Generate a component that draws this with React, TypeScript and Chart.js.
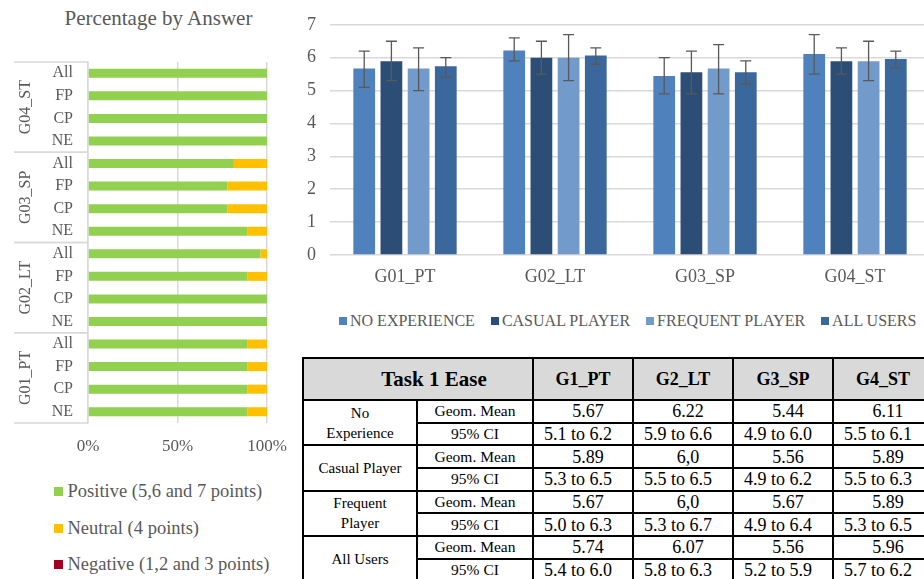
import React, { useEffect, useRef } from 'react';
import { Chart, registerables } from 'chart.js';

Chart.register(...registerables);

const FONT = "'Liberation Serif', 'Times New Roman', serif";
const GRAY = '#595959';
const GRID = '#D9D9D9';

// ---------- Left chart: Percentage by Answer ----------
const answerTitle = 'Percentage by Answer';
const answerGroups = ['G04_ST', 'G03_SP', 'G02_LT', 'G01_PT'];
const answerSubs = ['All', 'FP', 'CP', 'NE'];
const positivePct = [100, 100, 100, 100, 81.5, 77.8, 77.8, 88.9, 96.3, 88.9, 100, 100, 88.9, 88.9, 88.9, 88.9];
const neutralPct = [0, 0, 0, 0, 18.5, 22.2, 22.2, 11.1, 3.7, 11.1, 0, 0, 11.1, 11.1, 11.1, 11.1];
const negativePct = [0, 0, 0, 0, 0, 0, 0, 0, 0, 0, 0, 0, 0, 0, 0, 0];
const answerLegend = ['Positive (5,6 and 7 points)', 'Neutral (4 points)', 'Negative (1,2 and 3 points)'];
const answerColors = ['#92D050', '#FFC000', '#A50021'];
const pctTicks = [0, 50, 100];

// ---------- Right chart: geometric means with 95% CI ----------
const tasks = ['G01_PT', 'G02_LT', 'G03_SP', 'G04_ST'];
const userTypes = ['NO EXPERIENCE', 'CASUAL PLAYER', 'FREQUENT PLAYER', 'ALL USERS'];
const userColors = ['#4F81BD', '#2C4D75', '#729ACA', '#3A679C'];
const meanNoExp = [5.67, 6.22, 5.44, 6.11];
const meanCasual = [5.89, 6.0, 5.56, 5.89];
const meanFrequent = [5.67, 6.0, 5.67, 5.89];
const meanAll = [5.74, 6.07, 5.56, 5.96];
const lowNoExp = [5.1, 5.9, 4.9, 5.5];
const highNoExp = [6.2, 6.6, 6.0, 6.7];
const lowCasual = [5.3, 5.5, 4.9, 5.5];
const highCasual = [6.5, 6.5, 6.2, 6.3];
const lowFrequent = [5.0, 5.3, 4.9, 5.3];
const highFrequent = [6.3, 6.7, 6.4, 6.5];
const lowAll = [5.4, 5.8, 5.2, 5.7];
const highAll = [6.0, 6.3, 5.9, 6.2];

// ---------- Table ----------
const tableTitle = 'Task 1 Ease';
const tableHeaders = ['G1_PT', 'G2_LT', 'G3_SP', 'G4_ST'];
const tableRowLabels = ['No\nExperience', 'Casual Player', 'Frequent\nPlayer', 'All Users'];
const tableMeanLabel = 'Geom. Mean';
const tableCiLabel = '95% CI';
const tableMeanNoExp = ['5.67', '6.22', '5.44', '6.11'];
const tableMeanCasual = ['5.89', '6,0', '5.56', '5.89'];
const tableMeanFrequent = ['5.67', '6,0', '5.67', '5.89'];
const tableMeanAll = ['5.74', '6.07', '5.56', '5.96'];
const tableCiNoExp = ['5.1 to 6.2', '5.9 to 6.6', '4.9 to 6.0', '5.5 to 6.1'];
const tableCiCasual = ['5.3 to 6.5', '5.5 to 6.5', '4.9 to 6.2', '5.5 to 6.3'];
const tableCiFrequent = ['5.0 to 6.3', '5.3 to 6.7', '4.9 to 6.4', '5.3 to 6.5'];
const tableCiAll = ['5.4 to 6.0', '5.8 to 6.3', '5.2 to 5.9', '5.7 to 6.2'];

const groupPlugin = {
  id: 'groupLabels',
  afterDraw(chart: any) {
    const { ctx, chartArea, scales } = chart;
    const ys = scales.y;
    const n = answerSubs.length;
    const step = ys.getPixelForValue(1) - ys.getPixelForValue(0);
    ctx.save();
    ctx.strokeStyle = GRID;
    ctx.lineWidth = 1.5;
    ctx.fillStyle = GRAY;
    ctx.font = `16px ${FONT}`;
    answerGroups.forEach((g, gi) => {
      const top = ys.getPixelForValue(gi * n) - step / 2;
      const bot = ys.getPixelForValue(gi * n + n - 1) + step / 2;
      const x0 = chartArea.left - 74;
      ctx.beginPath();
      ctx.moveTo(x0, top);
      ctx.lineTo(chartArea.left, top);
      ctx.moveTo(x0, bot);
      ctx.lineTo(chartArea.left, bot);
      ctx.stroke();
      ctx.save();
      ctx.translate(chartArea.left - 62, (top + bot) / 2);
      ctx.rotate(-Math.PI / 2);
      ctx.textAlign = 'center';
      ctx.textBaseline = 'middle';
      ctx.fillText(g, 0, 0);
      ctx.restore();
    });
    ctx.restore();
  },
};

const errorPlugin = {
  id: 'errorBars',
  afterDatasetsDraw(chart: any) {
    const lows = [lowNoExp, lowCasual, lowFrequent, lowAll];
    const highs = [highNoExp, highCasual, highFrequent, highAll];
    const { ctx, scales } = chart;
    ctx.save();
    ctx.strokeStyle = '#595959';
    ctx.lineWidth = 1.3;
    chart.data.datasets.forEach((_: any, i: number) => {
      const meta = chart.getDatasetMeta(i);
      meta.data.forEach((bar: any, j: number) => {
        const x = bar.x;
        const yl = scales.y.getPixelForValue(lows[i][j]);
        const yh = scales.y.getPixelForValue(highs[i][j]);
        ctx.beginPath();
        ctx.moveTo(x, yl);
        ctx.lineTo(x, yh);
        ctx.moveTo(x - 5.5, yl);
        ctx.lineTo(x + 5.5, yl);
        ctx.moveTo(x - 5.5, yh);
        ctx.lineTo(x + 5.5, yh);
        ctx.stroke();
      });
    });
    ctx.restore();
  },
};

function LeftChart() {
  const ref = useRef<HTMLCanvasElement>(null);
  useEffect(() => {
    if (!ref.current) return;
    const labels = answerGroups.flatMap(() => answerSubs);
    const chart = new Chart(ref.current, {
      type: 'bar',
      data: {
        labels,
        datasets: [positivePct, neutralPct, negativePct].map((d, i) => ({
          label: answerLegend[i],
          data: d,
          backgroundColor: answerColors[i],
          barPercentage: 0.4,
          categoryPercentage: 1,
        })),
      },
      options: {
        indexAxis: 'y',
        responsive: false,
        animation: false,
        layout: { padding: { top: 62, right: 23, bottom: 0, left: 0 } },
        plugins: { legend: { display: false }, tooltip: { enabled: false }, title: { display: false } },
        scales: {
          x: {
            stacked: true,
            min: 0,
            max: 100,
            afterBuildTicks: (s: any) => {
              s.ticks = pctTicks.map((v) => ({ value: v }));
            },
            afterFit: (s: any) => {
              s.height = 47;
            },
            ticks: {
              callback: (v: any) => v + '%',
              font: { family: FONT, size: 17, lineHeight: 2.43 },
              color: GRAY,
              padding: 3,
            },
            grid: { color: GRID, lineWidth: 1.5, drawTicks: false },
            border: { display: false },
          },
          y: {
            stacked: true,
            afterFit: (s: any) => {
              s.width = 88;
            },
            ticks: { font: { family: FONT, size: 16 }, color: GRAY, padding: 15 },
            grid: { display: false, drawTicks: false },
            border: { display: true, color: GRID, width: 1.5 },
          },
        },
      },
      plugins: [groupPlugin],
    } as any);
    return () => chart.destroy();
  }, []);
  return <canvas ref={ref} width={290} height={470} style={{ position: 'absolute', left: 0, top: 0 }} />;
}

function RightChart() {
  const ref = useRef<HTMLCanvasElement>(null);
  useEffect(() => {
    if (!ref.current) return;
    const series = [meanNoExp, meanCasual, meanFrequent, meanAll];
    const chart = new Chart(ref.current, {
      type: 'bar',
      data: {
        labels: tasks,
        datasets: series.map((d, i) => ({
          label: userTypes[i],
          data: d,
          backgroundColor: userColors[i],
          categoryPercentage: 0.725,
          barPercentage: 0.8,
        })),
      },
      options: {
        responsive: false,
        animation: false,
        layout: { padding: { top: 15, right: 0, bottom: 0, left: 0 } },
        plugins: { legend: { display: false }, tooltip: { enabled: false } },
        scales: {
          y: {
            min: 0,
            max: 7,
            afterFit: (s: any) => {
              s.width = 30;
            },
            ticks: { stepSize: 1, font: { family: FONT, size: 18 }, color: GRAY, padding: 14 },
            grid: { color: GRID, lineWidth: 1.5, drawTicks: false },
            border: { display: false },
          },
          x: {
            afterFit: (s: any) => {
              s.height = 35;
            },
            ticks: { font: { family: FONT, size: 18 }, color: GRAY, padding: 11 },
            grid: { display: false, drawTicks: false },
            border: { display: false },
          },
        },
      },
      plugins: [errorPlugin],
    } as any);
    return () => chart.destroy();
  }, []);
  return <canvas ref={ref} width={630} height={290} style={{ position: 'absolute', left: 300, top: 0 }} />;
}

const cellBorder = '2px solid #000';

function DataTable() {
  const means = [tableMeanNoExp, tableMeanCasual, tableMeanFrequent, tableMeanAll];
  const cis = [tableCiNoExp, tableCiCasual, tableCiFrequent, tableCiAll];
  const colW = [114, 116, 100, 100, 100, 100];
  const td: React.CSSProperties = {
    border: cellBorder,
    padding: 0,
    textAlign: 'center',
    verticalAlign: 'middle',
    lineHeight: '20px',
  };
  return (
    <table
      style={{
        position: 'absolute',
        left: 302,
        top: 357,
        borderCollapse: 'collapse',
        tableLayout: 'fixed',
        width: colW.reduce((a, b) => a + b, 0),
        fontFamily: FONT,
        color: '#000',
      }}
    >
      <colgroup>
        {colW.map((w, i) => (
          <col key={i} style={{ width: w }} />
        ))}
      </colgroup>
      <thead>
        <tr style={{ height: 42, background: '#D9D9D9' }}>
          <th colSpan={2} style={{ ...td, fontSize: 21, paddingLeft: 32 }}>
            {tableTitle}
          </th>
          {tableHeaders.map((h) => (
            <th key={h} style={{ ...td, fontSize: 18 }}>
              {h}
            </th>
          ))}
        </tr>
      </thead>
      <tbody>
        {tableRowLabels.map((lab, i) => (
          <React.Fragment key={lab}>
            <tr style={{ height: 22.7 }}>
              <td rowSpan={2} style={{ ...td, fontSize: 15, whiteSpace: 'pre-line' }}>
                {lab}
              </td>
              <td style={{ ...td, fontSize: 15.5 }}>{tableMeanLabel}</td>
              {means[i].map((m, j) => (
                <td key={j} style={{ ...td, fontSize: 18, paddingLeft: 10 }}>
                  {m}
                </td>
              ))}
            </tr>
            <tr style={{ height: 22.7 }}>
              <td style={{ ...td, fontSize: 15.5 }}>{tableCiLabel}</td>
              {cis[i].map((c, j) => (
                <td key={j} style={{ ...td, fontSize: 18, paddingRight: 10 }}>
                  {c}
                </td>
              ))}
            </tr>
          </React.Fragment>
        ))}
      </tbody>
    </table>
  );
}

export default function App() {
  return (
    <div
      style={{
        position: 'fixed',
        left: 0,
        top: 0,
        width: 924,
        height: 579,
        overflow: 'hidden',
        background: '#fff',
        fontFamily: FONT,
      }}
    >
      <div
        style={{
          position: 'absolute',
          left: 0,
          top: 6,
          width: 317,
          textAlign: 'center',
          fontSize: 21,
          lineHeight: '24px',
          color: GRAY,
        }}
      >
        {answerTitle}
      </div>
      <LeftChart />
      {answerLegend.map((lab, i) => (
        <div
          key={lab}
          style={{
            position: 'absolute',
            left: 54,
            top: 481 + i * 36.7,
            height: 21,
            display: 'flex',
            alignItems: 'center',
            fontSize: 18.5,
            color: GRAY,
            whiteSpace: 'nowrap',
          }}
        >
          <span style={{ display: 'inline-block', width: 9, height: 9, background: answerColors[i], marginRight: 4.5 }} />
          {lab}
        </div>
      ))}
      <RightChart />
      <div
        style={{
          position: 'absolute',
          left: 339,
          top: 311,
          height: 19,
          display: 'flex',
          alignItems: 'center',
          fontSize: 16,
          color: GRAY,
          whiteSpace: 'nowrap',
        }}
      >
        {userTypes.map((u, i) => (
          <span key={u} style={{ display: 'flex', alignItems: 'center', marginRight: 16 }}>
            <span style={{ display: 'inline-block', width: 8, height: 8, background: userColors[i], marginRight: 3 }} />
            {u}
          </span>
        ))}
      </div>
      <DataTable />
    </div>
  );
}
